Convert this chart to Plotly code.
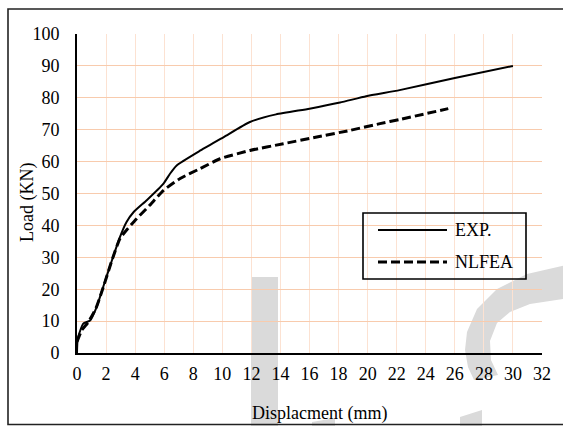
import plotly.graph_objects as go

# ---- data ----
exp_disp = [0, 0.05, 0.43, 0.9, 1.35, 1.8, 2.4, 2.96, 3.4, 3.9, 4.8, 5.95, 6.4, 6.86,
            8.5, 10.1, 11.9, 13.7, 16.0, 18.1, 19.9, 22.2, 26.0, 30.0]
exp_load = [0, 4.5, 9.2, 10.2, 14.4, 20.7, 29.0, 36.4, 41.0, 44.2, 47.9, 53.1, 56.2, 58.8,
            63.5, 67.7, 72.4, 74.8, 76.6, 78.5, 80.5, 82.4, 86.2, 90.0]
fea_disp = [0, 0.32, 0.78, 1.3, 1.8, 2.4, 2.96, 3.5, 4.1, 5.0, 5.96, 7.1, 8.47, 9.85,
            11.9, 14.2, 16.5, 18.8, 20.85, 22.2, 25.55]
fea_load = [3.5, 7.1, 9.7, 14.0, 20.5, 29.0, 35.9, 39.0, 42.1, 46.3, 51.0, 54.7, 57.8, 60.9,
            63.5, 65.6, 67.7, 69.8, 71.9, 73.2, 76.6]
series_names = ["EXP.", "NLFEA"]
x_ticks = list(range(0, 33, 2))
y_ticks = list(range(0, 101, 10))
x_title = "Displacment (mm)"
y_title = "Load (KN)"

W, H = 563, 426
L, R, T, B = 77, 21, 34, 73
PW, PH = W - L - R, H - T - B
FONT = "Liberation Serif"


def px(x):
    return (x - L) / PW


def py(y):
    return (H - B - y) / PH


fig = go.Figure()
fig.add_trace(go.Scatter(x=exp_disp, y=exp_load, mode="lines", name=series_names[0],
                         line=dict(color="black", width=2, shape="spline", smoothing=0.5),
                         showlegend=False, cliponaxis=False))
fig.add_trace(go.Scatter(x=fea_disp, y=fea_load, mode="lines", name=series_names[1],
                         line=dict(color="black", width=3, dash="9px,4px",
                                   shape="spline", smoothing=0.5),
                         showlegend=False, cliponaxis=False))

shapes = []
# watermark (light grey, behind the grid)
grey = "#DADADA"
shapes.append(dict(type="path", xref="paper", yref="paper", layer="below",
                   path=f"M{px(251)},{py(277)} L{px(278)},{py(277)} L{px(278)},{py(430)} L{px(251)},{py(430)} Z",
                   fillcolor=grey, line=dict(width=0)))
shapes.append(dict(type="path", xref="paper", yref="paper", layer="below",
                   path=f"M{px(312)},{py(422)} L{px(335)},{py(418)} L{px(335)},{py(430)} L{px(312)},{py(430)} Z",
                   fillcolor=grey, line=dict(width=0)))
shapes.append(dict(type="path", xref="paper", yref="paper", layer="below",
                   path=f"M{px(460)},{py(417)} L{px(482)},{py(410)} L{px(482)},{py(430)} L{px(460)},{py(430)} Z",
                   fillcolor=grey, line=dict(width=0)))
outer = [(570, 264), (527, 274), (497, 289), (477, 309), (467, 332), (465, 350), (468, 367), (474, 380)]
inner = [(498, 375), (491, 360), (490, 341), (497, 323), (510, 312), (530, 304), (570, 298)]
pts = outer + inner
path = "M" + " L".join(f"{px(a):.5f},{py(b):.5f}" for a, b in pts) + " Z"
shapes.append(dict(type="path", xref="paper", yref="paper", layer="below",
                   path=path, fillcolor=grey, line=dict(width=0)))

# outer frame
shapes.append(dict(type="rect", xref="paper", yref="paper",
                   x0=px(8), x1=px(600), y0=py(424.5), y1=py(9),
                   line=dict(color="#222222", width=1.6), fillcolor="rgba(0,0,0,0)"))

# manual legend
shapes.append(dict(type="rect", xref="paper", yref="paper",
                   x0=px(363), x1=px(526), y0=py(279), y1=py(213),
                   line=dict(color="black", width=1.6), fillcolor="rgba(0,0,0,0)"))
shapes.append(dict(type="line", xref="paper", yref="paper",
                   x0=px(378), x1=px(447), y0=py(230), y1=py(230),
                   line=dict(color="black", width=2)))
shapes.append(dict(type="line", xref="paper", yref="paper",
                   x0=px(378), x1=px(447), y0=py(262), y1=py(262),
                   line=dict(color="black", width=3, dash="9px,4px")))

annotations = [
    dict(text=series_names[0], x=px(453), y=py(230), xref="paper", yref="paper",
         xanchor="left", yanchor="middle", showarrow=False,
         font=dict(family=FONT, size=18, color="black")),
    dict(text=series_names[1], x=px(453), y=py(262), xref="paper", yref="paper",
         xanchor="left", yanchor="middle", showarrow=False,
         font=dict(family=FONT, size=18, color="black")),
    dict(text=x_title, x=px(319), y=py(413), xref="paper", yref="paper",
         xanchor="center", yanchor="middle", showarrow=False,
         font=dict(family=FONT, size=18, color="black")),
    dict(text=y_title, x=px(27), y=py(203), xref="paper", yref="paper",
         xanchor="center", yanchor="middle", showarrow=False, textangle=-90,
         font=dict(family=FONT, size=18, color="black")),
]

fig.update_layout(
    width=W, height=H,
    margin=dict(l=L, r=R, t=T, b=B, pad=0),
    paper_bgcolor="white", plot_bgcolor="rgba(0,0,0,0)",
    showlegend=False,
    shapes=shapes, annotations=annotations,
    font=dict(family=FONT, size=18, color="black"),
)
fig.update_xaxes(range=[0, 32], tickvals=x_ticks, ticktext=[str(v) for v in x_ticks],
                 showgrid=True, gridcolor="#FCE2D2", gridwidth=1.3,
                 showline=True, linecolor="black", linewidth=1.8,
                 zeroline=False, ticks="", ticklabelstandoff=3,
                 tickfont=dict(family=FONT, size=18, color="black"))
fig.update_yaxes(range=[0, 100], tickvals=y_ticks, ticktext=[str(v) for v in y_ticks],
                 showgrid=True, gridcolor="#F8CBAD", gridwidth=1.3,
                 showline=True, linecolor="black", linewidth=1.8,
                 zeroline=False, ticks="", ticklabelstandoff=12,
                 tickfont=dict(family=FONT, size=18, color="black"))

fig.write_html("out.html")
